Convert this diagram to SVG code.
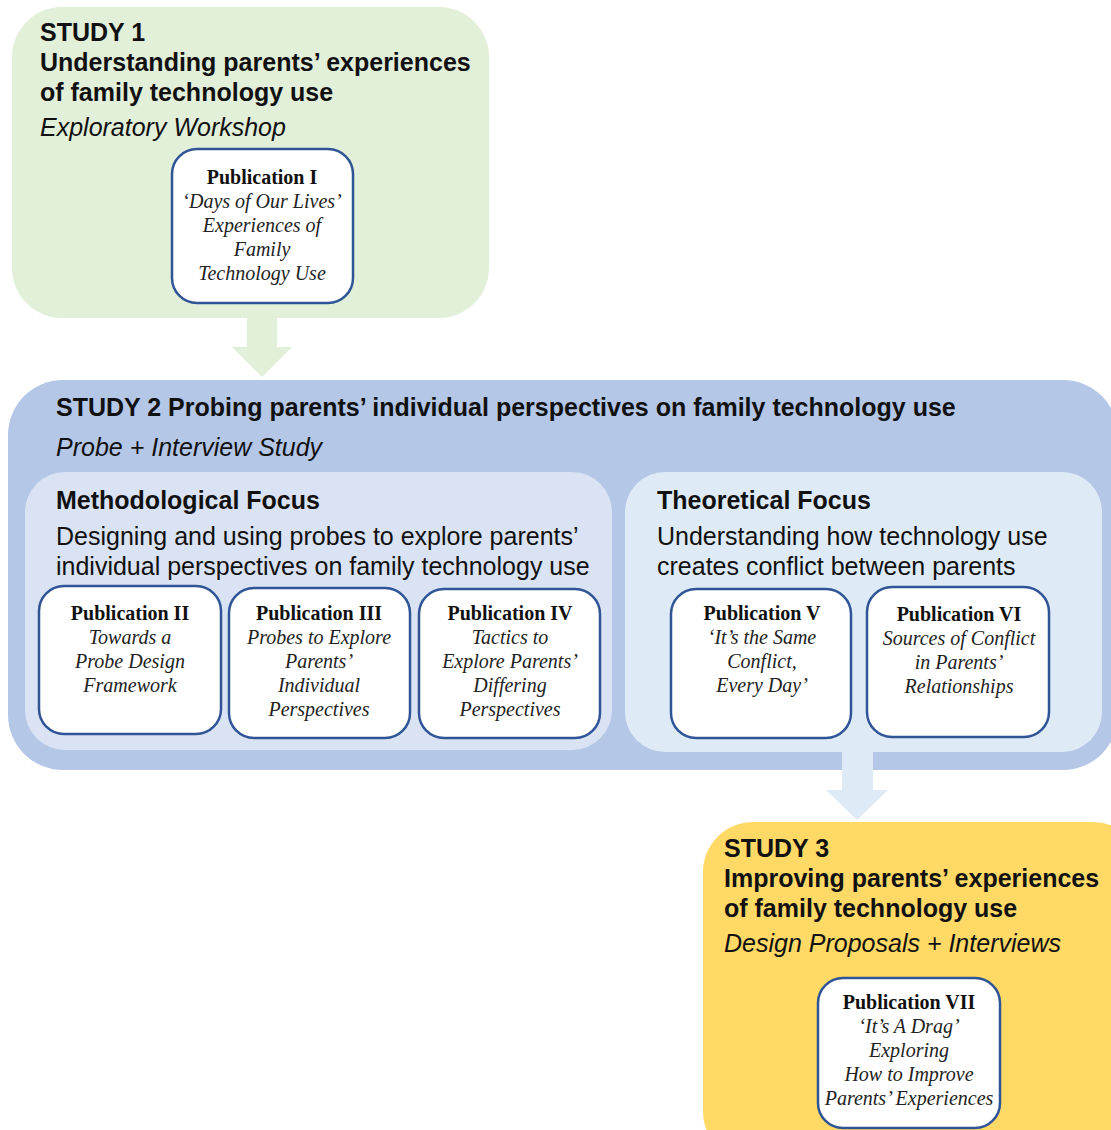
<svg xmlns="http://www.w3.org/2000/svg" width="1111" height="1130" viewBox="0 0 1111 1130">
<style>
.h{font-family:"Liberation Sans",Arial,sans-serif;font-weight:bold;font-size:25px;fill:#111}
.s{font-family:"Liberation Sans",Arial,sans-serif;font-style:italic;font-size:25px;fill:#111}
.r{font-family:"Liberation Sans",Arial,sans-serif;font-size:25px;fill:#111}
.pb{fill:#fff;stroke:#2f5597;stroke-width:2.5}
.pt{font-family:"Liberation Serif","Times New Roman",serif;font-weight:bold;font-size:20px;fill:#111;text-anchor:middle}
.pi{font-family:"Liberation Serif","Times New Roman",serif;font-style:italic;font-size:20px;fill:#222;text-anchor:middle}
</style>
<rect width="1111" height="1130" fill="#fff"/>
<g id="study1">
<rect x="12" y="7" width="477" height="311" rx="50" fill="#e2efd9"/>
<text class="h" x="40" y="41">STUDY 1</text>
<text class="h" x="40" y="71">Understanding parents’ experiences</text>
<text class="h" x="40" y="101">of family technology use</text>
<text class="s" x="40" y="136">Exploratory Workshop</text>
</g>
<g id="study2">
<rect x="8" y="380" width="1110" height="390" rx="55" fill="#b4c7e7"/>
<text class="h" x="56" y="416">STUDY 2 Probing parents’ individual perspectives on family technology use</text>
<text class="s" x="56" y="456">Probe + Interview Study</text>
</g>
<g id="methodological">
<rect x="25" y="472" width="587" height="278" rx="40" fill="#dae3f3"/>
<text class="h" x="56" y="509">Methodological Focus</text>
<text class="r" x="56" y="545">Designing and using probes to explore parents’</text>
<text class="r" x="56" y="575">individual perspectives on family technology use</text>
</g>
<g id="theoretical">
<rect x="625" y="472" width="477" height="280" rx="40" fill="#deebf7"/>
<text class="h" x="657" y="509">Theoretical Focus</text>
<text class="r" x="657" y="545">Understanding how technology use</text>
<text class="r" x="657" y="575">creates conflict between parents</text>
</g>
<g id="study3">
<rect x="703" y="822" width="440" height="340" rx="50" fill="#ffd966"/>
<text class="h" x="724" y="857">STUDY 3</text>
<text class="h" x="724" y="887">Improving parents’ experiences</text>
<text class="h" x="724" y="917">of family technology use</text>
<text class="s" x="724" y="952">Design Proposals + Interviews</text>
</g>
<g id="connectors">
<polygon points="247,318 277,318 277,347 292,347 262,377 232,347 247,347" fill="#e2efd9"/>
<polygon points="842,750 873,750 873,790 888,790 857,820 826,790 842,790" fill="#deebf7"/>
</g>
<g id="pub1">
<rect class="pb" x="172" y="149" width="181" height="154" rx="25"/>
<text class="pt" x="262" y="184">Publication I</text>
<text class="pi" x="262" y="208">‘Days of Our Lives’</text>
<text class="pi" x="262" y="232">Experiences of</text>
<text class="pi" x="262" y="256">Family</text>
<text class="pi" x="262" y="280">Technology Use</text>
</g>
<g id="pub2">
<rect class="pb" x="39" y="586" width="182" height="148" rx="25"/>
<text class="pt" x="130" y="620">Publication II</text>
<text class="pi" x="130" y="644">Towards a</text>
<text class="pi" x="130" y="668">Probe Design</text>
<text class="pi" x="130" y="692">Framework</text>
</g>
<g id="pub3">
<rect class="pb" x="229" y="588" width="181" height="150" rx="25"/>
<text class="pt" x="319" y="620">Publication III</text>
<text class="pi" x="319" y="644">Probes to Explore</text>
<text class="pi" x="319" y="668">Parents’</text>
<text class="pi" x="319" y="692">Individual</text>
<text class="pi" x="319" y="716">Perspectives</text>
</g>
<g id="pub4">
<rect class="pb" x="419" y="589" width="181" height="149" rx="25"/>
<text class="pt" x="510" y="620">Publication IV</text>
<text class="pi" x="510" y="644">Tactics to</text>
<text class="pi" x="510" y="668">Explore Parents’</text>
<text class="pi" x="510" y="692">Differing</text>
<text class="pi" x="510" y="716">Perspectives</text>
</g>
<g id="pub5">
<rect class="pb" x="671" y="589" width="180" height="149" rx="25"/>
<text class="pt" x="762" y="620">Publication V</text>
<text class="pi" x="762" y="644">‘It’s the Same</text>
<text class="pi" x="762" y="668">Conflict,</text>
<text class="pi" x="762" y="692">Every Day’</text>
</g>
<g id="pub6">
<rect class="pb" x="867" y="587" width="182" height="150" rx="25"/>
<text class="pt" x="959" y="621">Publication VI</text>
<text class="pi" x="959" y="645">Sources of Conflict</text>
<text class="pi" x="959" y="669">in Parents’</text>
<text class="pi" x="959" y="693">Relationships</text>
</g>
<g id="pub7">
<rect class="pb" x="818" y="978" width="182" height="150" rx="25"/>
<text class="pt" x="909" y="1009">Publication VII</text>
<text class="pi" x="909" y="1033">‘It’s A Drag’</text>
<text class="pi" x="909" y="1057">Exploring</text>
<text class="pi" x="909" y="1081">How to Improve</text>
<text class="pi" x="909" y="1105">Parents’ Experiences</text>
</g>
</svg>
